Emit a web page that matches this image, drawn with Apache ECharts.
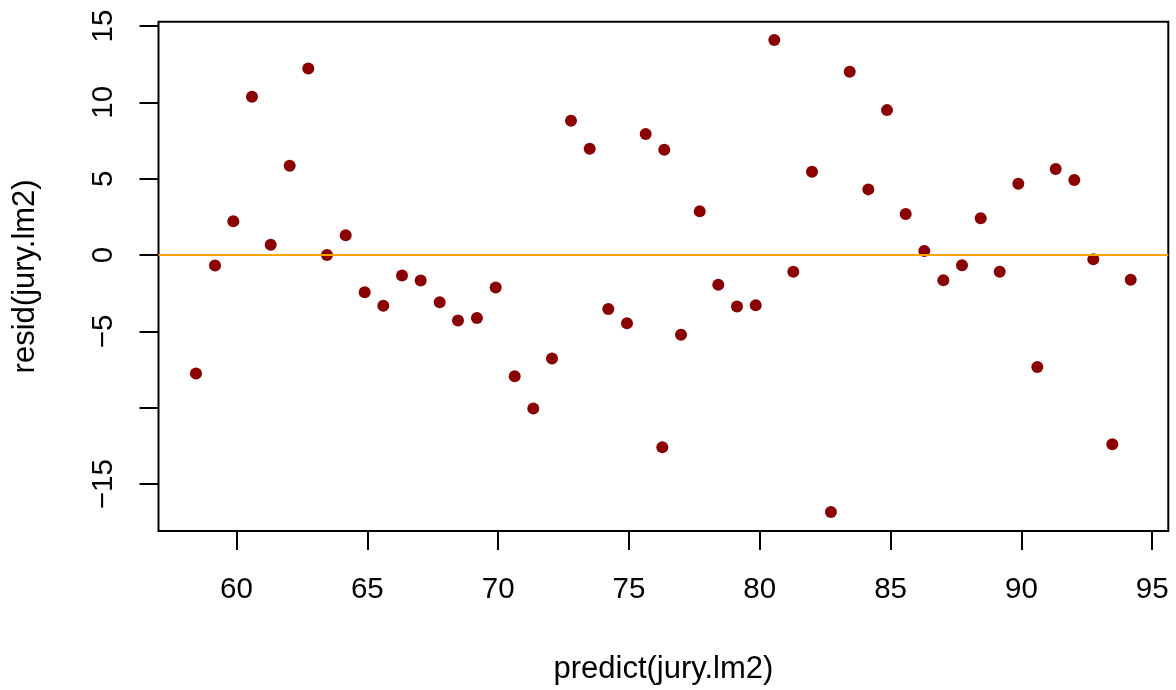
<!DOCTYPE html>
<html>
<head>
<meta charset="utf-8">
<script src="https://cdn.jsdelivr.net/npm/echarts@6/dist/echarts.min.js"></script>
<style>
html,body{margin:0;padding:0;background:#fff;}
#chart{width:1176px;height:690px;}
</style>
</head>
<body>
<div id="chart"></div>
<script>
// predicted values (x) and residuals (y)
const predicted = [58.452,59.178,59.878,60.592,61.307,62.033,62.744,63.459,64.174,64.900,
  65.611,66.326,67.040,67.767,68.466,69.190,69.907,70.633,71.344,72.059,
  72.785,73.500,74.211,74.926,75.640,76.351,76.275,76.990,77.705,78.415,
  79.130,79.845,80.556,81.282,81.997,82.720,83.438,84.149,84.864,85.578,
  86.289,87.016,87.730,88.445,89.171,89.882,90.609,91.311,92.022,92.749,
  93.475,94.178];
const residuals = [-7.76,-0.69,2.21,10.36,0.67,5.85,12.21,0.01,1.29,-2.43,
  -3.32,-1.34,-1.67,-3.09,-4.28,-4.12,-2.12,-7.94,-10.05,-6.78,
  8.79,6.96,-3.54,-4.46,7.92,6.90,-12.58,-5.22,2.86,-1.95,
  -3.37,-3.28,14.08,-1.10,5.46,-16.83,12.01,4.30,9.49,2.69,
  0.27,-1.65,-0.67,2.41,-1.10,4.67,-7.33,5.63,4.92,-0.27,
  -12.39,-1.62];
const xTicks = [60,65,70,75,80,85,90,95];
const yTicks = [-15,-10,-5,0,5,10,15];
const yTickLabels = [-15,-5,0,5,10,15];
const xTitle = 'predict(jury.lm2)';
const yTitle = 'resid(jury.lm2)';

const points = predicted.map((x,i)=>[x,residuals[i]]);
const fmt = v => v < 0 ? '\u2212' + Math.abs(v) : String(v);
const font = 'Liberation Sans, Arial, sans-serif';

const chart = echarts.init(document.getElementById('chart'), null, {renderer:'canvas'});
chart.setOption({
  animation:false,
  backgroundColor:'#ffffff',
  grid:{left:158.5, top:21.7, right:7.7, bottom:158, show:true, borderColor:'#000', borderWidth:2, backgroundColor:'transparent'},
  xAxis:{
    type:'value', min:57.019, max:95.615, position:'bottom',
    splitLine:{show:false},
    axisLine:{show:false, onZero:false},
    axisTick:{show:true, inside:false, length:19, customValues:xTicks, lineStyle:{color:'#000', width:2}},
    axisLabel:{show:true, margin:44, customValues:xTicks, formatter:fmt, color:'#000', fontFamily:font, fontSize:29.5},
    name:xTitle, nameLocation:'middle', nameGap:123,
    nameTextStyle:{color:'#000', fontFamily:font, fontSize:31}
  },
  yAxis:{
    type:'value', min:-18.07, max:15.28, position:'left',
    splitLine:{show:false},
    axisLine:{show:false, onZero:false},
    axisTick:{show:true, inside:false, length:19, customValues:yTicks, lineStyle:{color:'#000', width:2}},
    axisLabel:{show:true, margin:40, rotate:90, customValues:yTickLabels, formatter:fmt, color:'#000', fontFamily:font, fontSize:29.5},
    name:yTitle, nameLocation:'middle', nameGap:118,
    nameTextStyle:{color:'#000', fontFamily:font, fontSize:31}
  },
  series:[{
    type:'scatter',
    data:points,
    symbol:'circle',
    symbolSize:12,
    itemStyle:{color:'#8B0000', opacity:1},
    markLine:{
      silent:true, symbol:['none','none'], label:{show:false},
      lineStyle:{color:'#FFA500', width:2, type:'solid'},
      data:[{yAxis:0}]
    },
    z:3
  }]
});
</script>
</body>
</html>
